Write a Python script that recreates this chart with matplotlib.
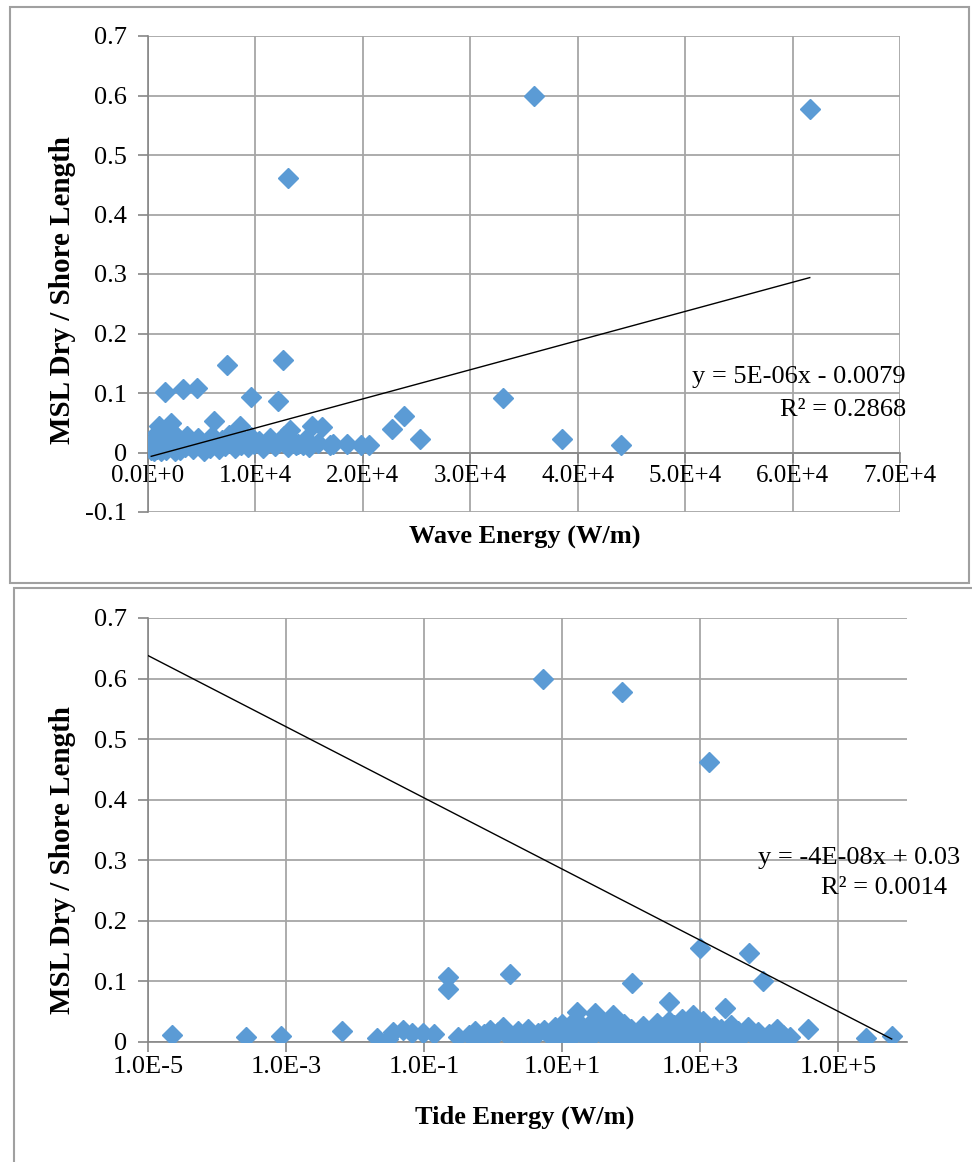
import matplotlib
matplotlib.use("Agg")
import matplotlib.pyplot as plt
from matplotlib.patches import Rectangle
from matplotlib.ticker import FixedLocator, FuncFormatter, NullLocator

# Two Excel-style scatter charts: shoreline ratio vs wave energy / tide energy

# ---- wave energy chart data (W/m, ratio) ----
wave_x = [35900, 61600, 13000, 12600, 7400, 4600, 3300, 1600, 9600, 12100,
          33000, 23800, 22700, 25300, 38500, 44000, 6100, 2100, 8600, 13200,
          15300, 16200, 16900, 18500, 19800, 20600, 15000, 13800, 14400,
          300, 450, 600, 700, 800, 900, 1000, 1100, 1200, 1300,
          1400, 1500, 1600, 1700, 1800, 1900, 2000, 2200, 2400, 2500,
          2700, 2900, 3000, 3200, 3400, 3600, 3800, 4000, 4200, 4400,
          4700, 5000, 5200, 5500, 5800, 6000, 6300, 6600, 6900, 7200,
          7500, 7800, 8100, 8400, 8700, 9000, 9300, 9600, 9900, 10300,
          10700, 11000, 11400, 11800, 12200, 12700, 13000, 13500, 14000, 14700,
          15800, 17200, 500, 1000, 2500, 850, 1250, 1750, 2300, 3100]
wave_y = [0.600, 0.578, 0.462, 0.155, 0.147, 0.109, 0.107, 0.101, 0.094, 0.086,
          0.092, 0.061, 0.040, 0.023, 0.023, 0.012, 0.053, 0.049, 0.044, 0.037,
          0.044, 0.043, 0.013, 0.015, 0.012, 0.012, 0.010, 0.013, 0.012,
          0.004, 0.010, 0.002, 0.018, 0.006, 0.025, 0.012, 0.030, 0.003, 0.020,
          0.008, 0.035, 0.015, 0.005, 0.026, 0.011, 0.040, 0.019, 0.007, 0.030,
          0.013, 0.022, 0.004, 0.016, 0.009, 0.027, 0.012, 0.020, 0.006, 0.015,
          0.024, 0.010, 0.003, 0.018, 0.008, 0.028, 0.013, 0.006, 0.021, 0.011,
          0.030, 0.016, 0.007, 0.024, 0.012, 0.018, 0.009, 0.026, 0.014, 0.020,
          0.008, 0.015, 0.024, 0.011, 0.018, 0.028, 0.009, 0.020, 0.015, 0.022,
          0.016, 0.014, 0.020, 0.045, 0.002, 0.033, 0.022, 0.017, 0.028, 0.010]
wave_fit = (4.9e-6, -0.0079)          # slope, intercept of the linear trendline
wave_eq = ["y = 5E-06x - 0.0079", "R² = 0.2868"]
wave_xticks = [0, 10000, 20000, 30000, 40000, 50000, 60000, 70000]
wave_yticks = [-0.1, 0, 0.1, 0.2, 0.3, 0.4, 0.5, 0.6, 0.7]

# ---- tide energy chart data (W/m, ratio) ----
tide_x = [5.3, 74, 1350, 1000, 5200, 8100, 0.22, 0.22, 1.76, 102,
          350, 2300, 16.6, 30, 55, 800, 37000, 257000, 600000, 13000,
          2.2e-5, 2.6e-4, 8.5e-4, 6.5e-3, 0.021, 0.030, 0.035, 0.050, 0.068, 0.098,
          0.14, 0.31,
          0.45, 0.55, 0.6, 0.75, 0.9, 1.0, 1.2, 1.4, 1.6, 2.0,
          2.3, 2.8, 3.2, 3.8, 4.5, 5.5, 6.5, 8, 9, 10,
          11, 12, 14, 15, 18, 20, 22, 25, 28, 32,
          36, 40, 45, 50, 60, 65, 70, 80, 90, 100,
          120, 130, 150, 170, 190, 210, 240, 260, 290, 320,
          350, 380, 420, 460, 500, 550, 600, 650, 700, 750,
          850, 950, 1100, 1200, 1400, 1600, 1800, 2000, 2500, 2800,
          3200, 3600, 4200, 5000, 6000, 7000, 8500, 10000, 12000, 16000,
          20000]
tide_y = [0.600, 0.578, 0.462, 0.155, 0.147, 0.101, 0.107, 0.087, 0.112, 0.097,
          0.066, 0.056, 0.050, 0.048, 0.045, 0.045, 0.021, 0.007, 0.010, 0.021,
          0.012, 0.008, 0.010, 0.018, 0.007, 0.005, 0.017, 0.020, 0.015, 0.015,
          0.013, 0.008,
          0.012, 0.018, 0.006, 0.014, 0.020, 0.009, 0.016, 0.024, 0.011, 0.007,
          0.018, 0.013, 0.021, 0.008, 0.015, 0.019, 0.012, 0.024, 0.006, 0.030,
          0.015, 0.020, 0.009, 0.034, 0.017, 0.025, 0.006, 0.028, 0.012, 0.019,
          0.035, 0.010, 0.022, 0.015, 0.026, 0.005, 0.018, 0.030, 0.012, 0.022,
          0.008, 0.017, 0.027, 0.013, 0.004, 0.020, 0.032, 0.010, 0.024, 0.015,
          0.035, 0.006, 0.028, 0.018, 0.011, 0.038, 0.022, 0.004, 0.030, 0.014,
          0.026, 0.008, 0.034, 0.019, 0.012, 0.026, 0.006, 0.021, 0.014, 0.028,
          0.009, 0.018, 0.012, 0.024, 0.010, 0.016, 0.007, 0.014, 0.004, 0.012,
          0.008]
tide_trend_x = [1e-5, 6e5]            # trendline ends as drawn
tide_trend_y = [0.638, 0.005]
tide_eq = ["y = -4E-08x + 0.03", "R² = 0.0014"]
tide_xticks = [1e-5, 1e-3, 1e-1, 1e1, 1e3, 1e5]
tide_yticks = [0, 0.1, 0.2, 0.3, 0.4, 0.5, 0.6, 0.7]

ylabel = "MSL Dry / Shore Length"

plt.rcParams['font.family'] = ['Liberation Serif', 'DejaVu Serif']
BLUE = '#5b9bd5'
GRID = '#a6a6a6'
FS = 19      # tick labels / equations
FT = 19      # axis titles

W, H = 972, 1162
fig = plt.figure(figsize=(W / 100, H / 100), dpi=100)


def ax_rect(l, t, r, b):
    return [l / W, 1 - b / H, (r - l) / W, (b - t) / H]


def yfmt(v, _):
    if abs(v) < 1e-9:
        return "0"
    return f"{v:.1f}"


def efmt(v, _):
    if v == 0:
        return "0.0E+0"
    s = f"{v:.1E}"
    m, e = s.split("E")
    e = int(e)
    return f"{m}E{'+' if e >= 0 else '-'}{abs(e)}"


def style(ax):
    for s in ['top', 'right']:
        ax.spines[s].set_visible(False)
    for s in ['left', 'bottom']:
        ax.spines[s].set_color('#868686')
        ax.spines[s].set_linewidth(1.2)
    ax.grid(True, color=GRID, linewidth=1.3)
    ax.set_axisbelow(True)
    ax.tick_params(axis='both', labelsize=FS, colors='#868686', labelcolor='black',
                   length=7, width=1.2, direction='out')
    ax.tick_params(axis='y', pad=8)
    ax.yaxis.set_major_formatter(FuncFormatter(yfmt))


# frames around each chart
fig.patches.append(Rectangle((10 / W, 1 - 583 / H), 959 / W, 576 / H, transform=fig.transFigure,
                             fill=False, edgecolor='#a0a0a0', linewidth=1.5))
fig.patches.append(Rectangle((14 / W, 1 - 1175 / H), 970 / W, 587 / H, transform=fig.transFigure,
                             fill=False, edgecolor='#a0a0a0', linewidth=1.5))

# ---- top: wave energy ----
ax1 = fig.add_axes(ax_rect(148, 36, 900, 512))
ax1.plot(wave_x, wave_y, ls='none', marker='D', ms=10, color=BLUE, mec=BLUE, zorder=3)
x0, x1 = min(wave_x), max(wave_x)
ax1.plot([x0, x1], [wave_fit[0] * x0 + wave_fit[1], wave_fit[0] * x1 + wave_fit[1]],
         color='black', lw=1, zorder=4)
ax1.set_xlim(0, 70000)
ax1.set_ylim(-0.1, 0.7)
ax1.xaxis.set_major_locator(FixedLocator(wave_xticks))
ax1.yaxis.set_major_locator(FixedLocator(wave_yticks))
style(ax1)
ax1.spines['bottom'].set_position(('data', 0))
ax1.xaxis.set_major_formatter(FuncFormatter(efmt))
ax1.tick_params(axis='x', pad=2, labelsize=FS - 1)
ax1.text(1.008, 0.284, wave_eq[0], transform=ax1.transAxes, ha='right', va='center', fontsize=FS)
ax1.text(1.008, 0.214, wave_eq[1], transform=ax1.transAxes, ha='right', va='center', fontsize=FS)
fig.text(62 / W, 1 - 290 / H, ylabel, rotation=90, ha='center', va='center',
         fontsize=FT + 2, fontweight='bold')
fig.text(525 / W, 1 - 537 / H, "Wave Energy (W/m)", ha='center', va='center',
         fontsize=FT, fontweight='bold')

# ---- bottom: tide energy ----
ax2 = fig.add_axes(ax_rect(148, 618, 907, 1042))
ax2.plot(tide_x, tide_y, ls='none', marker='D', ms=10, color=BLUE, mec=BLUE, zorder=3)
ax2.plot(tide_trend_x, tide_trend_y, color='black', lw=1, zorder=4)
ax2.set_xscale('log')
ax2.set_xlim(1e-5, 1e6)
ax2.set_ylim(0, 0.7)
ax2.xaxis.set_major_locator(FixedLocator(tide_xticks))
ax2.xaxis.set_minor_locator(NullLocator())
ax2.yaxis.set_major_locator(FixedLocator(tide_yticks))
style(ax2)
ax2.xaxis.set_major_formatter(FuncFormatter(efmt))
ax2.tick_params(axis='x', pad=3)
ax2.text(1.07, 0.434, tide_eq[0], transform=ax2.transAxes, ha='right', va='center', fontsize=FS)
ax2.text(1.053, 0.363, tide_eq[1], transform=ax2.transAxes, ha='right', va='center', fontsize=FS)
fig.text(62 / W, 1 - 860 / H, ylabel, rotation=90, ha='center', va='center',
         fontsize=FT + 2, fontweight='bold')
fig.text(525 / W, 1 - 1117 / H, "Tide Energy (W/m)", ha='center', va='center',
         fontsize=FT, fontweight='bold')

fig.savefig("out.png", dpi=100)
